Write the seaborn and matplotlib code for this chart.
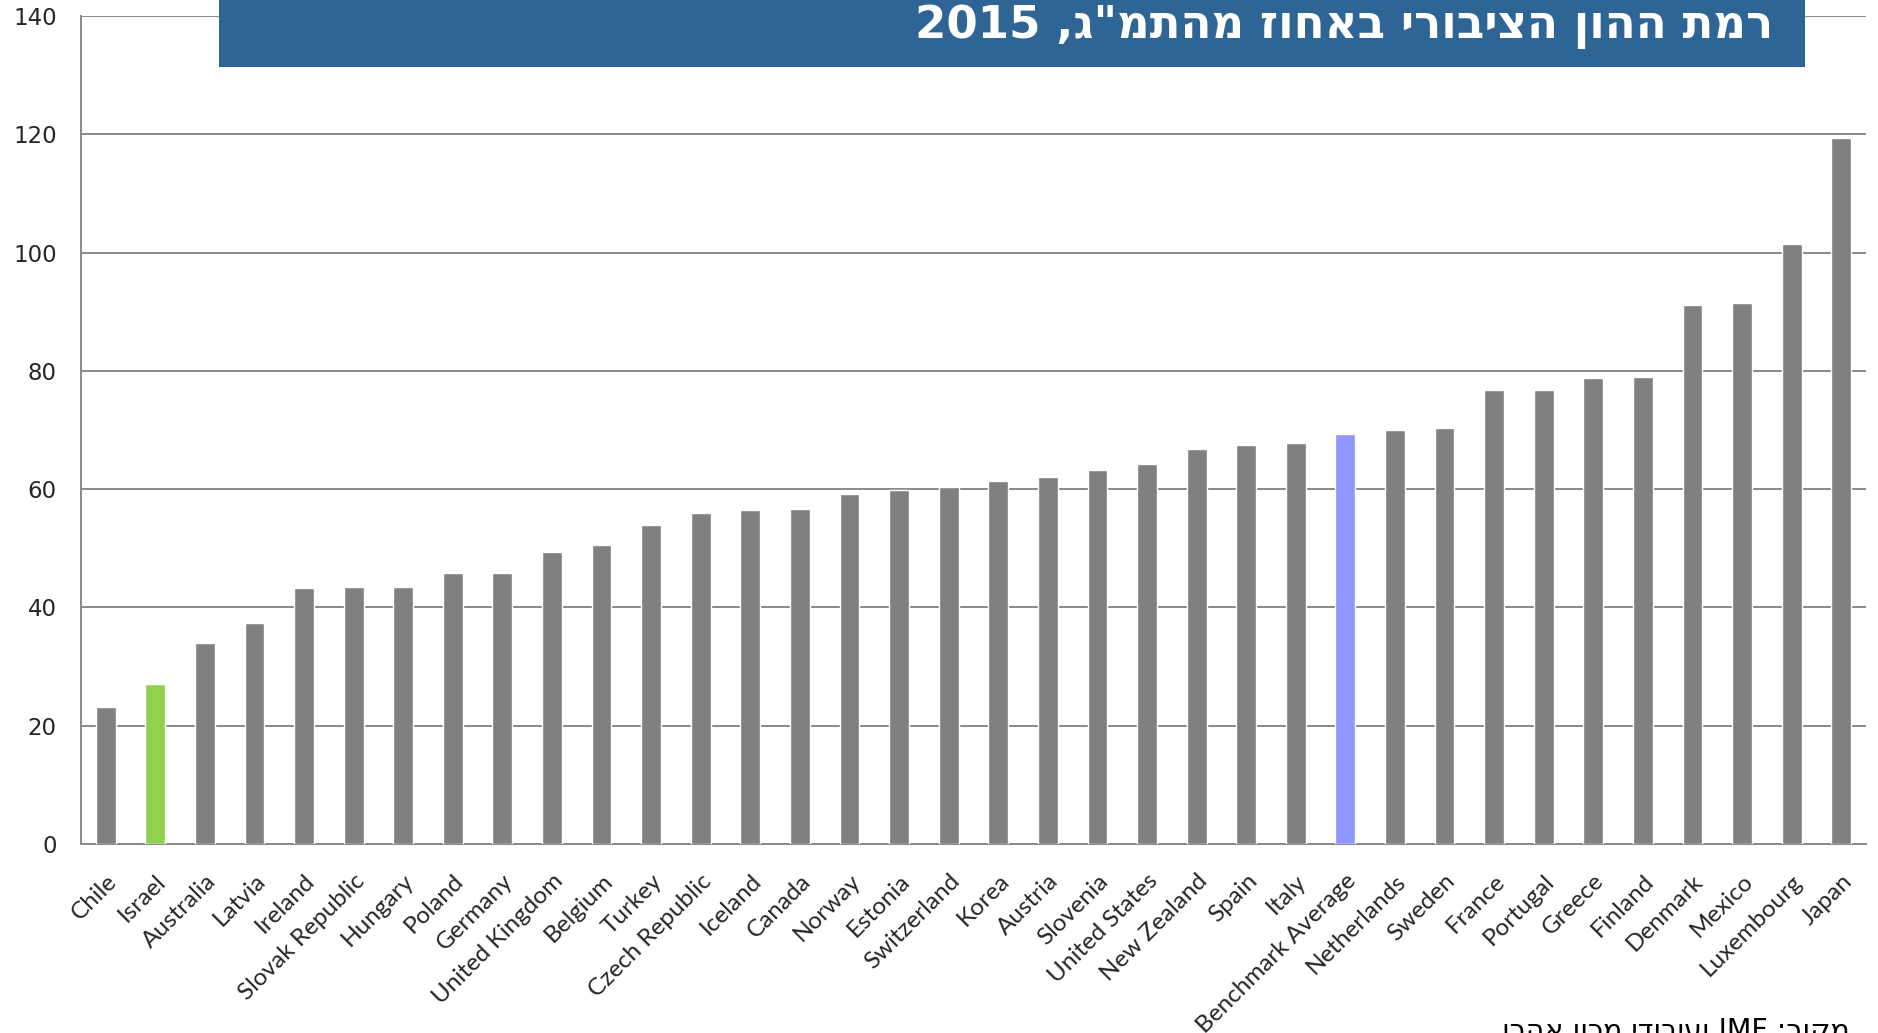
import re
import pandas as pd
import seaborn as sns
import matplotlib.pyplot as plt
from matplotlib.patches import Rectangle
from matplotlib.ticker import FixedLocator

# data (% of GDP, 2015)
countries = ['Chile', 'Israel', 'Australia', 'Latvia', 'Ireland', 'Slovak Republic',
             'Hungary', 'Poland', 'Germany', 'United Kingdom', 'Belgium', 'Turkey',
             'Czech Republic', 'Iceland', 'Canada', 'Norway', 'Estonia', 'Switzerland',
             'Korea', 'Austria', 'Slovenia', 'United States', 'New Zealand', 'Spain',
             'Italy', 'Benchmark Average', 'Netherlands', 'Sweden', 'France', 'Portugal',
             'Greece', 'Finland', 'Denmark', 'Mexico', 'Luxembourg', 'Japan']
values = [23.1, 27.0, 33.9, 37.4, 43.3, 43.5,
          43.5, 45.9, 45.9, 49.4, 50.6, 54.0,
          56.0, 56.4, 56.6, 59.1, 59.9, 60.4,
          61.3, 62.0, 63.3, 64.2, 66.8, 67.5,
          67.8, 69.3, 70.0, 70.4, 76.7, 76.8,
          78.8, 78.9, 91.2, 91.4, 101.5, 119.3]
highlight = {'Israel': '#92D050', 'Benchmark Average': '#8F96FF'}
y_ticks = [0, 20, 40, 60, 80, 100, 120, 140]

title = 'רמת ההון הציבורי באחוז מהתמ"ג, 2015'
source = 'מקור: IMF ועיבודי מכון אהרן'


def visual(s):
    # matplotlib has no bidi support: flip the line, keep latin/digit runs LTR
    r = s[::-1]
    return re.sub(r'[A-Za-z0-9]+', lambda m: m.group(0)[::-1], r)


df = pd.DataFrame({'country': countries, 'value': values})
palette = [highlight.get(c, '#808080') for c in countries]

sns.set_style('white')
plt.rcParams['font.family'] = ['DejaVu Sans']

fig = plt.figure(figsize=(18.78, 10.33), dpi=100)
ax = fig.add_axes([0.0431, 0.183, 0.9505, 0.8015])

sns.barplot(data=df, x='country', y='value', hue='country', palette=palette,
            width=0.4, legend=False, saturation=1, ax=ax, zorder=3)

grid_c = '#898989'
ax.set_xlim(-0.5, len(countries) - 0.5)
ax.set_ylim(0, 140)
ax.set_yticks(y_ticks)
ax.yaxis.grid(True, color=grid_c, linewidth=1.4)
ax.set_axisbelow(True)
for s in ['top', 'right']:
    ax.spines[s].set_visible(False)
for s in ['left', 'bottom']:
    ax.spines[s].set_color(grid_c)
    ax.spines[s].set_linewidth(1.4)

ax.tick_params(axis='y', length=6.5, width=1.4, color=grid_c, labelsize=16.5, pad=11)
ax.tick_params(axis='x', which='major', length=0, pad=19)
ax.xaxis.set_minor_locator(FixedLocator([i - 0.5 for i in range(len(countries) + 1)]))
ax.tick_params(axis='x', which='minor', length=6, width=1.4, color=grid_c)

ax.set_xticks(range(len(countries)))
ax.set_xticklabels(countries, rotation=45, ha='right', rotation_mode='anchor',
                   fontsize=17.5, family='Lato')
ax.set_xlabel('')
ax.set_ylabel('')

# title banner
fig.patches.append(Rectangle((219 / 1878, 1 - 67 / 1033), (1805 - 219) / 1878, 67 / 1033,
                             transform=fig.transFigure, facecolor='#2E6595',
                             edgecolor='none', zorder=5))
fig.text(1773 / 1878, 1 - 38 / 1033, visual(title), color='white', fontsize=32.5,
         fontweight='bold', ha='right', va='baseline',
         family=['DejaVu Sans'], zorder=6)

fig.text(1850 / 1878, 1 - 1017 / 1033, visual(source), color='black', fontsize=20.5,
         ha='right', va='top', family=['DejaVu Sans'])

fig.savefig('out.png', dpi=100, facecolor='white')
